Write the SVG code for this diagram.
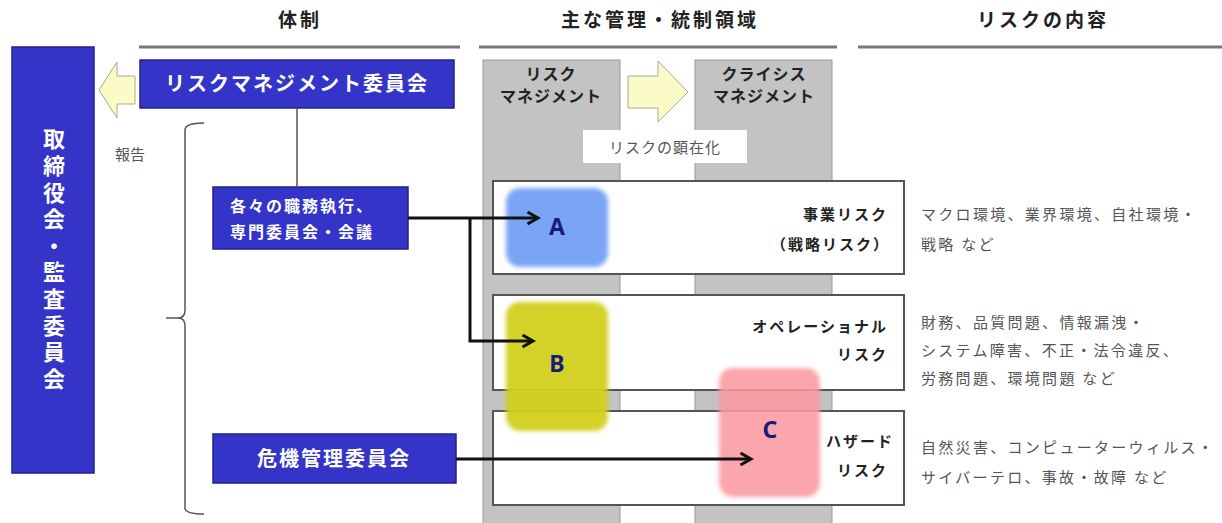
<svg xmlns="http://www.w3.org/2000/svg" width="1222" height="523" viewBox="0 0 1222 523">
<style>
.hdr{font-family:"Noto Sans CJK JP","Noto Sans",sans-serif;font-weight:bold;font-size:19px;fill:#222;letter-spacing:3px;text-anchor:middle}
.rule{stroke:#777;stroke-width:3}
.bluebox{fill:#3434c8;stroke:#222288;stroke-width:1.5}
.wt{font-family:"Noto Sans CJK JP","Noto Sans",sans-serif;font-weight:bold;fill:#fff}
.col{fill:#c3c3c3;stroke:#999;stroke-width:1}
.colt{font-family:"Noto Sans CJK JP","Noto Sans",sans-serif;font-weight:bold;font-size:16px;fill:#222;text-anchor:middle;letter-spacing:1px}
.row{fill:#fff;stroke:#555;stroke-width:2}
.rl{font-family:"Noto Sans CJK JP","Noto Sans",sans-serif;font-weight:bold;font-size:15px;fill:#222;text-anchor:end;letter-spacing:2px}
.desc{font-family:"Noto Sans CJK JP","Noto Sans",sans-serif;font-size:15px;fill:#555;letter-spacing:2.3px}
.letter{font-family:"Noto Sans","DejaVu Sans",sans-serif;font-weight:bold;font-size:23px;fill:#1a1a7a;text-anchor:middle}
.conn{fill:none;stroke:#111;stroke-width:3}
.yarrow{fill:#fbfbc8;stroke:#a8a890;stroke-width:1}
</style>
<defs>
<marker id="ah" viewBox="0 0 10 10" refX="8" refY="5" markerWidth="5" markerHeight="5" orient="auto" markerUnits="strokeWidth">
<path d="M1,1 L8,5 L1,9" fill="none" stroke="#111" stroke-width="2"/>
</marker>
<filter id="soft" x="-10%" y="-10%" width="120%" height="120%"><feGaussianBlur stdDeviation="2"/></filter>
</defs>

<!-- headers -->
<g id="headers">
<text class="hdr" x="300" y="27">体制</text>
<text class="hdr" x="660" y="27">主な管理・統制領域</text>
<text class="hdr" x="1043" y="27">リスクの内容</text>
<line class="rule" x1="139" y1="47" x2="460" y2="47"/>
<line class="rule" x1="479" y1="47" x2="837" y2="47"/>
<line class="rule" x1="858" y1="47" x2="1222" y2="47"/>
</g>

<!-- board -->
<g id="board">
<rect class="bluebox" x="12" y="47" width="82" height="426"/>
<text class="wt" font-size="22" x="54" y="128" writing-mode="tb" letter-spacing="4.6">取締役会・監査委員会</text>
</g>

<!-- report arrow -->
<g id="report-arrow">
<path class="yarrow" d="M99,90 L117,62 L117,76 L135,76 L135,104 L117,104 L117,118 Z"/>
<text x="115" y="160" font-family="'Noto Sans CJK JP',sans-serif" font-size="15" fill="#555">報告</text>
</g>

<g id="rm-committee">
<rect class="bluebox" x="140" y="60" width="314" height="48"/>
<text class="wt" font-size="20" x="297" y="91" text-anchor="middle" letter-spacing="2">リスクマネジメント委員会</text>
</g>

<g id="duties">
<rect class="bluebox" x="213" y="187" width="195" height="62"/>
<text class="wt" font-size="16" x="230" y="212" letter-spacing="2">各々の職務執行、</text>
<text class="wt" font-size="16" x="230" y="238" letter-spacing="2">専門委員会・会議</text>
</g>

<g id="crisis-committee">
<rect class="bluebox" x="213" y="434" width="243" height="49"/>
<text class="wt" font-size="20" x="334" y="466" text-anchor="middle" letter-spacing="2">危機管理委員会</text>
</g>

<g id="brace">
<path d="M204,123 Q185,123 185,130 L185,310 Q185,318 178,318 L166,318 L178,318 Q185,318 185,326 L185,508 Q185,514 204,514" fill="none" stroke="#555" stroke-width="1.5"/>
</g>

<!-- columns -->
<g id="col-risk">
<rect class="col" x="483" y="60" width="137" height="470"/>
<text class="colt" x="551" y="80">リスク</text>
<text class="colt" x="551" y="102">マネジメント</text>
</g>
<g id="col-crisis">
<rect class="col" x="695" y="60" width="137" height="470"/>
<text class="colt" x="764" y="80">クライシス</text>
<text class="colt" x="764" y="102">マネジメント</text>
</g>
<g id="col-arrow">
<path class="yarrow" d="M628,76 L658,76 L658,61 L688,92 L658,122 L658,108 L628,108 Z"/>
</g>
<g id="manifest">
<rect x="583" y="130" width="164" height="33" fill="#fff"/>
<text x="665" y="153" text-anchor="middle" font-family="'Noto Sans CJK JP',sans-serif" font-size="15" fill="#555" letter-spacing="1">リスクの顕在化</text>
</g>

<!-- rows -->
<g id="row-business">
<rect class="row" x="493" y="181" width="411" height="93"/>
<text class="rl" x="888" y="220">事業リスク</text>
<text class="rl" x="890" y="250">（戦略リスク）</text>
</g>
<g id="row-operational">
<rect class="row" x="493" y="295" width="411" height="95"/>
<text class="rl" x="888" y="332">オペレーショナル</text>
<text class="rl" x="888" y="360">リスク</text>
</g>
<g id="row-hazard">
<rect class="row" x="493" y="411" width="411" height="94"/>
<text class="rl" x="894" y="447">ハザード</text>
<text class="rl" x="888" y="476">リスク</text>
</g>

<!-- blobs -->
<g id="blob-a">
<rect x="506" y="188" width="102" height="79" rx="14" fill="#7aa5f5" filter="url(#soft)"/>
<text class="letter" x="557" y="235">A</text>
</g>
<g id="blob-b">
<rect x="506" y="302" width="102" height="129" rx="14" fill="#d2cf1c" fill-opacity="0.95" filter="url(#soft)"/>
<text class="letter" x="557" y="372">B</text>
</g>
<g id="blob-c">
<rect x="719" y="368" width="101" height="129" rx="14" fill="#fb9aa0" fill-opacity="0.88" filter="url(#soft)"/>
<text class="letter" x="770" y="438">C</text>
</g>

<!-- descriptions -->
<g id="desc">
<text class="desc" x="921" y="220">マクロ環境、業界環境、自社環境・</text>
<text class="desc" x="921" y="250">戦略 など</text>
<text class="desc" x="921" y="328">財務、品質問題、情報漏洩・</text>
<text class="desc" x="921" y="356">システム障害、不正・法令違反、</text>
<text class="desc" x="921" y="384">労務問題、環境問題 など</text>
<text class="desc" x="921" y="453">自然災害、コンピューターウィルス・</text>
<text class="desc" x="921" y="483">サイバーテロ、事故・故障 など</text>
</g>

<!-- connectors -->
<g id="connectors">
<line x1="297" y1="108" x2="297" y2="187" stroke="#555" stroke-width="1.5"/>
<path class="conn" d="M408,218 L538,218" marker-end="url(#ah)"/>
<path class="conn" d="M470,218 L470,341 L533,341" marker-end="url(#ah)"/>
<path class="conn" d="M456,459 L751,459" marker-end="url(#ah)"/>
</g>
</svg>
